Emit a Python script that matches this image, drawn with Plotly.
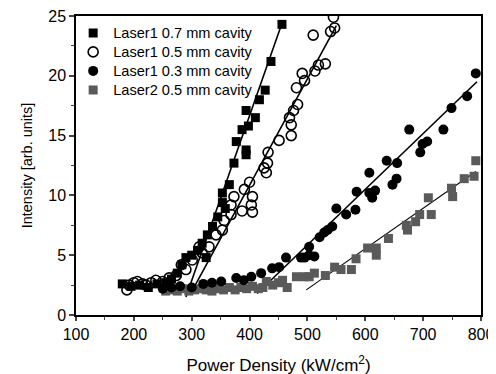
import plotly.graph_objects as go

# ---- data ----
l1_07_x = [180, 195, 210, 225, 240, 255, 265, 275, 283, 290, 300, 310, 318, 325, 327, 336, 345, 353, 353, 358, 365, 373, 377, 387, 394, 394, 394, 398, 410, 417, 427, 437, 456]
l1_07_y = [2.6, 2.4, 2.5, 2.3, 2.6, 2.7, 3.0, 3.5, 4.2, 4.8, 5.0, 5.4, 6.0, 4.8, 6.7, 7.4, 8.2, 9.4, 10.2, 8.9, 10.9, 12.7, 14.5, 15.5, 13.8, 13.4, 17.1, 15.8, 16.5, 18.0, 18.8, 21.2, 24.3]

l1_05_x = [188, 192, 200, 206, 215, 221, 230, 238, 250, 261, 273, 282, 290, 301, 313, 318, 330, 342, 353, 356, 368, 368, 373, 387, 391, 400, 403, 405, 405, 425, 429, 431, 432, 451, 472, 472, 469, 476, 483, 481, 495, 491, 513, 519, 531, 510, 540, 547, 545]
l1_05_y = [2.1, 2.5, 2.7, 2.8, 2.6, 2.5, 2.7, 2.9, 2.8, 3.1, 3.3, 4.2, 3.8, 4.6, 5.7, 5.2, 5.7, 6.7, 7.1, 7.9, 8.4, 9.2, 9.9, 8.7, 10.5, 11.1, 9.2, 9.9, 8.6, 12.3, 11.9, 12.7, 13.6, 14.6, 15.0, 15.9, 16.5, 17.1, 17.6, 19.0, 19.6, 20.2, 20.4, 20.9, 21.0, 23.4, 23.7, 24.0, 24.9]

l1_03_x = [250, 265, 280, 300, 320, 335, 351, 377, 390, 403, 420, 439, 451, 463, 489, 495, 503, 503, 512, 521, 529, 535, 543, 550, 567, 583, 585, 607, 607, 612, 617, 637, 647, 654, 655, 676, 695, 699, 707, 735, 749, 776, 791]
l1_03_y = [2.2, 2.3, 2.4, 2.3, 2.6, 2.7, 2.8, 3.1, 2.9, 3.2, 3.5, 3.9, 4.0, 4.8, 4.8, 4.8, 5.0, 5.7, 4.9, 6.5, 6.9, 7.1, 7.4, 8.9, 8.4, 8.8, 10.3, 11.9, 10.2, 9.8, 10.4, 12.9, 10.9, 11.4, 12.7, 15.5, 13.6, 14.3, 14.5, 15.5, 17.3, 18.3, 20.2]

l2_05_x = [255, 265, 275, 285, 295, 305, 315, 325, 335, 345, 355, 365, 375, 385, 395, 405, 415, 423, 429, 440, 450, 457, 465, 481, 495, 503, 512, 531, 547, 558, 576, 584, 604, 619, 619, 640, 671, 673, 687, 694, 709, 714, 749, 751, 771, 788, 791]
l2_05_y = [2.0, 2.1, 2.0, 2.2, 2.0, 2.1, 2.2, 2.1, 2.0, 2.2, 2.1, 2.3, 2.1, 2.3, 2.2, 2.4, 2.2, 2.3, 2.8, 2.5, 2.7, 2.9, 2.3, 3.2, 3.2, 3.2, 3.5, 3.3, 4.0, 3.8, 3.8, 4.7, 5.6, 5.6, 5.0, 6.4, 7.5, 7.1, 7.8, 8.4, 9.8, 8.4, 10.6, 9.9, 11.4, 11.6, 12.9]

fit_07_x = [290, 456]
fit_07_y = [1.5, 24.4]
fit_05_x = [304, 550]
fit_05_y = [2.3, 24.2]
fit_03_x = [413, 793]
fit_03_y = [1.8, 19.5]
fit_l2_x = [498, 791]
fit_l2_y = [2.1, 12.0]

names = ["Laser1 0.7 mm cavity", "Laser1 0.5 mm cavity", "Laser1 0.3 mm cavity", "Laser2 0.5 mm cavity"]
x_ticks = [100, 200, 300, 400, 500, 600, 700, 800]
y_ticks = [0, 5, 10, 15, 20, 25]

GRAY = "#5a5a5a"
fig = go.Figure()


def lbl(s):
    return '<span style="font-size:14.6px">' + s + '</span>'


# fit lines
for fx, fy, w in [(fit_07_x, fit_07_y, 1.6), (fit_05_x, fit_05_y, 1.6), (fit_03_x, fit_03_y, 1.6), (fit_l2_x, fit_l2_y, 1.1)]:
    fig.add_trace(go.Scatter(x=fx, y=fy, mode="lines", line=dict(color="black", width=w), showlegend=False, hoverinfo="skip"))

fig.add_trace(go.Scatter(x=l2_05_x, y=l2_05_y, mode="markers", name=lbl(names[3]), legendrank=4,
                         marker=dict(symbol="square", size=9, color=GRAY, line=dict(width=0))))
fig.add_trace(go.Scatter(x=l1_03_x, y=l1_03_y, mode="markers", name=lbl(names[2]), legendrank=3,
                         marker=dict(symbol="circle", size=10, color="black", line=dict(width=0))))
fig.add_trace(go.Scatter(x=l1_07_x, y=l1_07_y, mode="markers", name=lbl(names[0]), legendrank=1,
                         marker=dict(symbol="square", size=9, color="black", line=dict(width=0))))
fig.add_trace(go.Scatter(x=l1_05_x, y=l1_05_y, mode="markers", name=lbl(names[1]), legendrank=2,
                         marker=dict(symbol="circle-open", size=10, color="black", line=dict(width=1.6))))

font = "Liberation Sans, Arial, sans-serif"
fig.update_layout(
    width=496, height=374,
    margin=dict(l=68, r=23, t=8, b=67, autoexpand=False),
    plot_bgcolor="white", paper_bgcolor="white",
    font=dict(family=font, size=16, color="black"),
    showlegend=True,
    legend=dict(x=-0.007, y=0.992, xanchor="left", yanchor="top", bgcolor="rgba(0,0,0,0)",
                font=dict(size=12), itemwidth=30, tracegroupgap=0),
    xaxis=dict(range=[100, 800], tickvals=x_ticks, ticks="outside", ticklen=4, tickwidth=1.5,
               tickfont=dict(size=16), automargin=False, ticklabeloverflow="allow",
               showline=True, linecolor="black", linewidth=1.5, mirror=True, showgrid=False, zeroline=False,
               minor=dict(dtick=50, tick0=100, ticks="outside", ticklen=3, tickwidth=1.2, showgrid=False),
               title=dict(text="Power Density (kW/cm<sup>2</sup>)", font=dict(size=17), standoff=17)),
    yaxis=dict(range=[0, 25], tickvals=y_ticks, ticks="outside", ticklen=5, tickwidth=1.5,
               tickfont=dict(size=16), automargin=False, ticklabeloverflow="allow",
               showline=True, linecolor="black", linewidth=1.5, mirror=True, showgrid=False, zeroline=False,
               minor=dict(dtick=2.5, tick0=0, ticks="outside", ticklen=3, tickwidth=1.2, showgrid=False),
               title=dict(text="Intensity [arb. units]", font=dict(size=14.5), standoff=12)),
)

fig.write_html("out.html")
